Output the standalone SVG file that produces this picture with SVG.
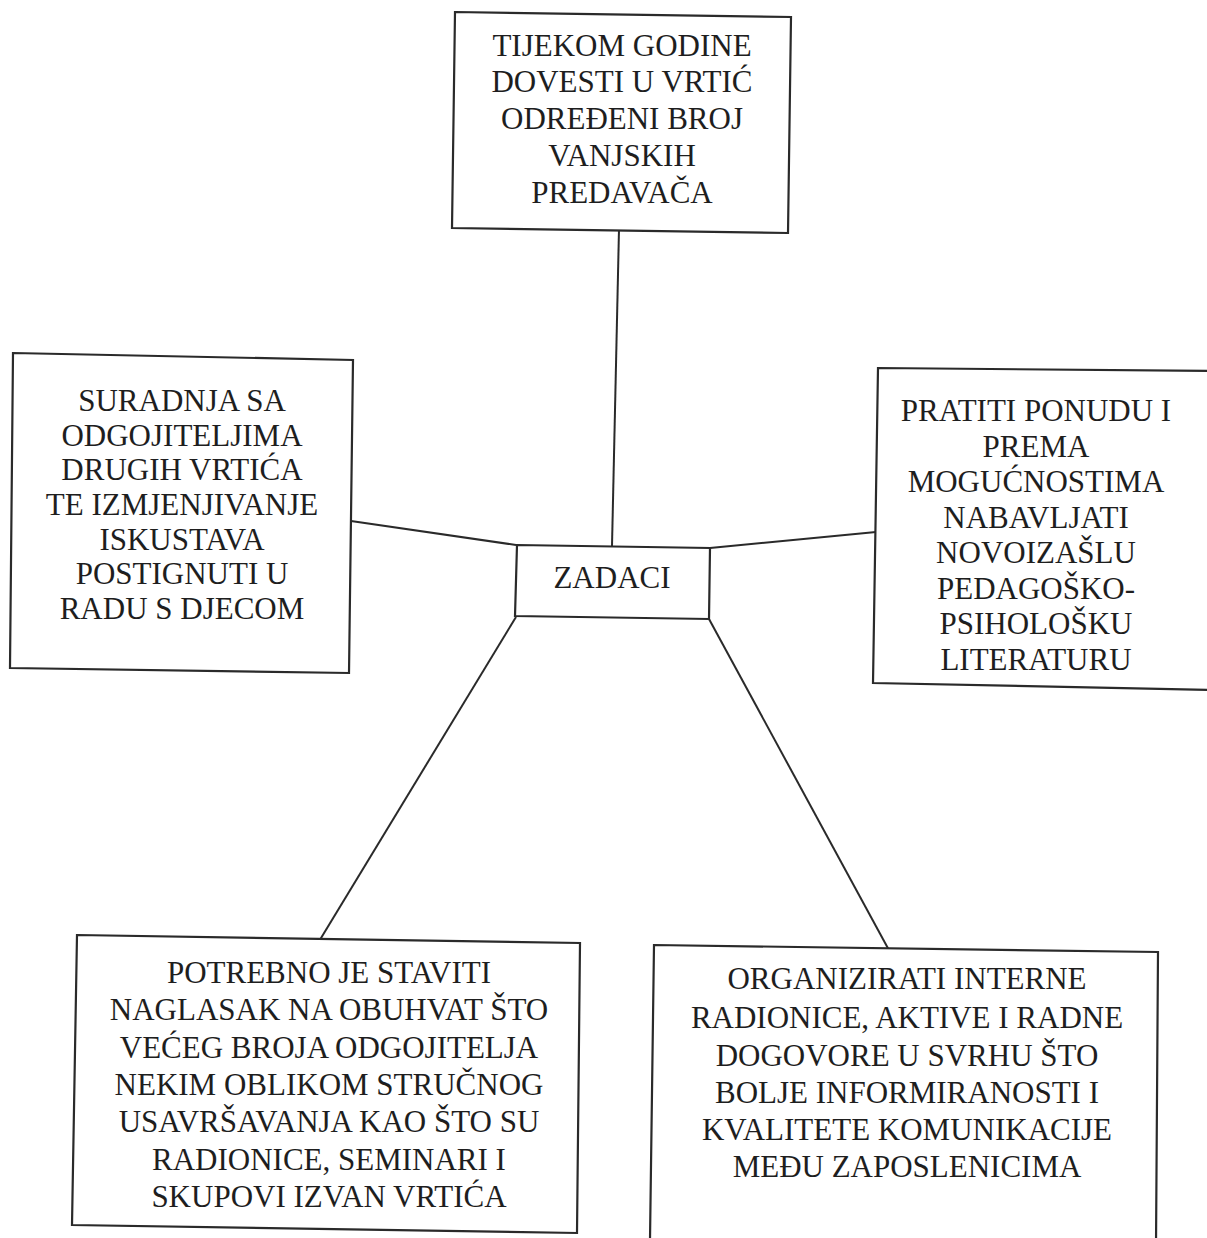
<svg xmlns="http://www.w3.org/2000/svg" width="1207" height="1238" viewBox="0 0 1207 1238">
<style>
.box{fill:#fff;stroke:#2a2a2a;stroke-width:2.2}
.t{font-family:"Liberation Serif",serif;font-size:31px;fill:#1e1e1e;text-anchor:middle}
.c{stroke:#2a2a2a;stroke-width:2;fill:none}
</style>
<rect width="1207" height="1238" fill="#fff"/>
<g id="connectors">
<line class="c" x1="619" y1="229" x2="612" y2="546"/>
<line class="c" x1="351" y1="521" x2="516" y2="545"/>
<line class="c" x1="710" y1="548" x2="876" y2="532"/>
<line class="c" x1="516" y1="617" x2="318" y2="943"/>
<line class="c" x1="709" y1="619" x2="890" y2="952"/>
</g>
<g id="n-top">
<polygon class="box" points="455,12 791,17 788,233 452,228"/>
<text class="t" x="622" y="56">TIJEKOM GODINE</text>
<text class="t" x="622" y="92">DOVESTI U VRTIĆ</text>
<text class="t" x="622" y="129">ODREĐENI BROJ</text>
<text class="t" x="622" y="166">VANJSKIH</text>
<text class="t" x="622" y="203">PREDAVAČA</text>
</g>
<g id="n-left">
<polygon class="box" points="13,353 353,360 349,673 10,668"/>
<text class="t" x="182" y="411">SURADNJA SA</text>
<text class="t" x="182" y="446">ODGOJITELJIMA</text>
<text class="t" x="182" y="480">DRUGIH VRTIĆA</text>
<text class="t" x="182" y="515">TE IZMJENJIVANJE</text>
<text class="t" x="182" y="550">ISKUSTAVA</text>
<text class="t" x="182" y="584">POSTIGNUTI U</text>
<text class="t" x="182" y="619">RADU S DJECOM</text>
</g>
<g id="n-right">
<polygon class="box" points="878,368 1215,371 1215,690 873,683"/>
<text class="t" x="1036" y="421">PRATITI PONUDU I</text>
<text class="t" x="1036" y="457">PREMA</text>
<text class="t" x="1036" y="492">MOGUĆNOSTIMA</text>
<text class="t" x="1036" y="528">NABAVLJATI</text>
<text class="t" x="1036" y="563">NOVOIZAŠLU</text>
<text class="t" x="1036" y="599">PEDAGOŠKO-</text>
<text class="t" x="1036" y="634">PSIHOLOŠKU</text>
<text class="t" x="1036" y="670">LITERATURU</text>
</g>
<g id="n-center">
<polygon class="box" points="517,545 710,548 709,619 515,616"/>
<text class="t" x="612" y="588">ZADACI</text>
</g>
<g id="n-bottom-left">
<polygon class="box" points="77,935 580,943 577,1233 72,1225"/>
<text class="t" x="329" y="983">POTREBNO JE STAVITI</text>
<text class="t" x="329" y="1020">NAGLASAK NA OBUHVAT ŠTO</text>
<text class="t" x="329" y="1058">VEĆEG BROJA ODGOJITELJA</text>
<text class="t" x="329" y="1095">NEKIM OBLIKOM STRUČNOG</text>
<text class="t" x="329" y="1132">USAVRŠAVANJA KAO ŠTO SU</text>
<text class="t" x="329" y="1170">RADIONICE, SEMINARI I</text>
<text class="t" x="329" y="1207">SKUPOVI IZVAN VRTIĆA</text>
</g>
<g id="n-bottom-right">
<polygon class="box" points="654,945 1158,952 1156,1245 650,1240"/>
<text class="t" x="907" y="989">ORGANIZIRATI INTERNE</text>
<text class="t" x="907" y="1028">RADIONICE, AKTIVE I RADNE</text>
<text class="t" x="907" y="1066">DOGOVORE U SVRHU ŠTO</text>
<text class="t" x="907" y="1103">BOLJE INFORMIRANOSTI I</text>
<text class="t" x="907" y="1140">KVALITETE KOMUNIKACIJE</text>
<text class="t" x="907" y="1177">MEĐU ZAPOSLENICIMA</text>
</g>
</svg>
